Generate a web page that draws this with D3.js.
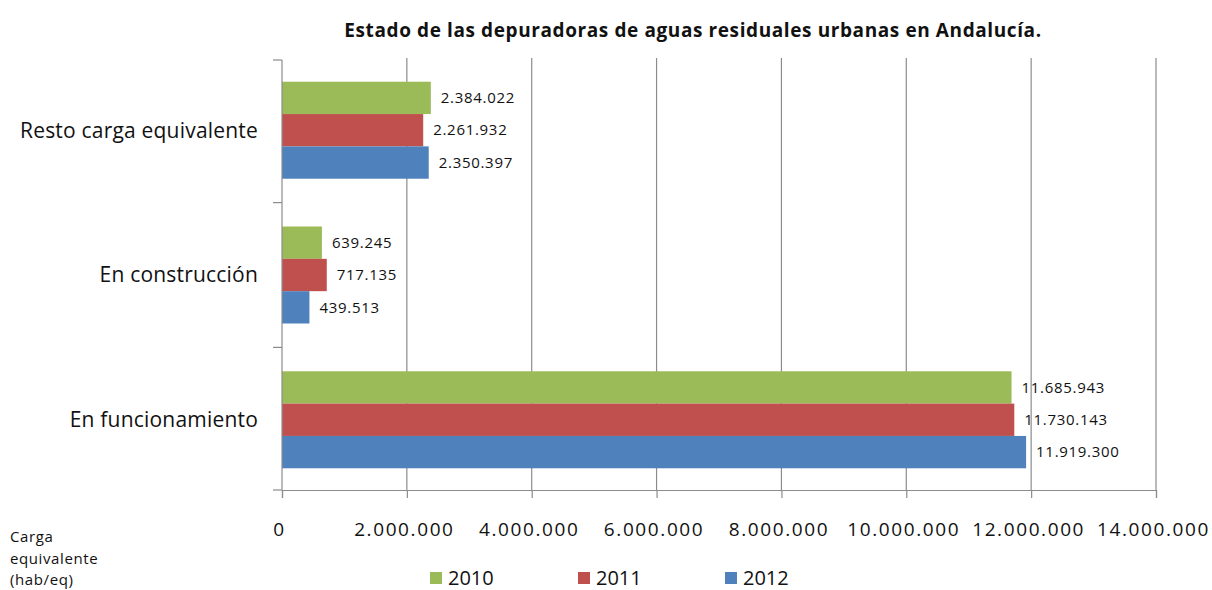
<!DOCTYPE html>
<html><head><meta charset="utf-8">
<script src="https://cdn.jsdelivr.net/npm/d3@7"></script>
<style>body{margin:0;background:#fff}svg{display:block}</style>
</head><body>
<svg id="c" width="1212" height="590"></svg>
<script>
const categories = ["Resto carga equivalente", "En construcción", "En funcionamiento"];
const years = ["2010", "2011", "2012"];
const v2010 = [2384022, 639245, 11685943];
const v2011 = [2261932, 717135, 11730143];
const v2012 = [2350397, 439513, 11919300];
const xTicks = [0, 2000000, 4000000, 6000000, 8000000, 10000000, 12000000, 14000000];
const colors = ["#9BBB59", "#C0504D", "#4F81BD"];
const series = [v2010, v2011, v2012];

(function () {
const fmt = n => d3.format(",")(n).replace(/,/g, ".");
const font = "'Open Sans', 'Liberation Sans', sans-serif";
const svg = d3.select("#c");
const pL = 282, pR = 1156, pT = 60, pB = 490;

const x = d3.scaleLinear().domain([0, 14000000]).range([pL, pR]);
const y = d3.scaleBand().domain(categories).range([pT, pB]).paddingInner(0.33).paddingOuter(0.15);
const yInner = d3.scaleBand().domain(years).range([0, y.bandwidth()]);

// gridlines
svg.append("g").selectAll("line").data(xTicks.slice(1)).join("line")
  .attr("x1", d => x(d)).attr("x2", d => x(d)).attr("y1", pT - 2).attr("y2", pB)
  .attr("stroke", "#8c8c8c").attr("stroke-width", 1.2);

// bars
categories.forEach((c, i) => {
  years.forEach((yr, j) => {
    const v = series[j][i];
    svg.append("rect").attr("x", x(0)).attr("y", y(c) + yInner(yr))
      .attr("width", x(v) - x(0)).attr("height", yInner.bandwidth())
      .attr("fill", colors[j]);
    svg.append("text").attr("x", x(v) + 10).attr("y", y(c) + yInner(yr) + yInner.bandwidth() / 2)
      .attr("dy", "0.35em").attr("font-family", font).attr("font-size", 15)
      .attr("letter-spacing", 0.7).attr("fill", "#111")
      .text(fmt(v));
  });
});

// x axis
const xAxis = svg.append("g").attr("transform", `translate(0,${pB})`)
  .call(d3.axisBottom(x).tickValues(xTicks).tickSize(8).tickFormat(d => fmt(d)));
xAxis.select(".domain").attr("stroke", "#8c8c8c").attr("stroke-width", 1.2);
xAxis.selectAll(".tick line").attr("stroke", "#8c8c8c").attr("stroke-width", 1.2);
xAxis.selectAll(".tick text").attr("font-family", font).attr("font-size", 19)
  .attr("letter-spacing", 1.6).attr("dx", -3).attr("fill", "#111").attr("y", 33);

// y axis
const yBoundaries = [pT, ...categories.slice(1).map(c => y(c) - y.step() * y.paddingInner() / 2), pB];
svg.append("line").attr("x1", pL).attr("x2", pL).attr("y1", pT).attr("y2", pB)
  .attr("stroke", "#8c8c8c").attr("stroke-width", 1.2);
svg.append("g").selectAll("line").data(yBoundaries).join("line")
  .attr("x1", pL - 9).attr("x2", pL).attr("y1", d => d).attr("y2", d => d)
  .attr("stroke", "#8c8c8c").attr("stroke-width", 1.2);
svg.append("g").selectAll("text").data(categories).join("text")
  .attr("x", 258).attr("y", d => y(d) + y.bandwidth() / 2).attr("dy", "0.35em")
  .attr("text-anchor", "end").attr("font-family", font).attr("font-size", 21)
  .attr("letter-spacing", 0.2).attr("fill", "#111")
  .text(d => d);

// title
svg.append("text").attr("x", 693).attr("y", 37).attr("text-anchor", "middle")
  .attr("font-family", font).attr("font-weight", "bold").attr("font-size", 19)
  .attr("letter-spacing", 0.6).attr("fill", "#111")
  .text("Estado de las depuradoras de aguas residuales urbanas en Andalucía.");

// axis title
["Carga", "equivalente", "(hab/eq)"].forEach((t, i) => {
  svg.append("text").attr("x", 10).attr("y", 542 + i * 21.5).attr("font-family", font)
    .attr("font-size", 15).attr("letter-spacing", 0.6).attr("fill", "#111").text(t);
});

// legend
const legX = [430, 578, 725];
years.forEach((yr, j) => {
  svg.append("rect").attr("x", legX[j]).attr("y", 572).attr("width", 12).attr("height", 12).attr("fill", colors[j]);
  svg.append("text").attr("x", legX[j] + 18).attr("y", 585).attr("font-family", font)
    .attr("font-size", 20).attr("fill", "#111").text(yr);
});
})();
</script>
</body></html>
